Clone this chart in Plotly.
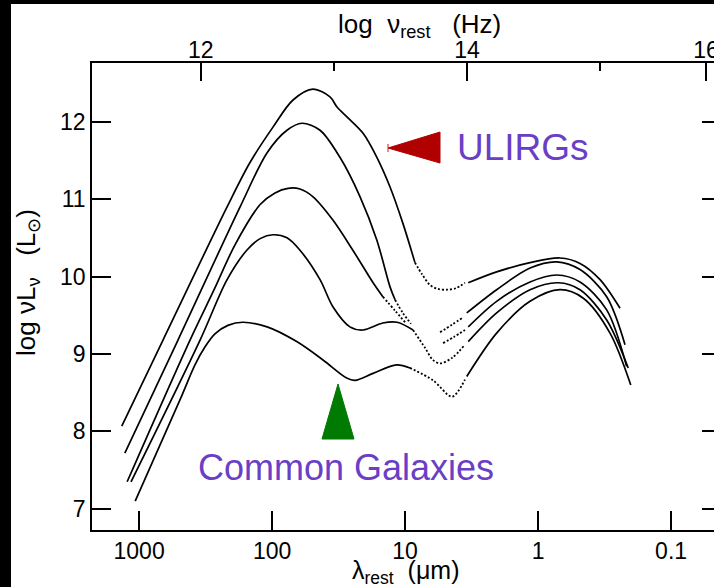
import plotly.graph_objects as go

# Mean spectral energy distributions of galaxies, five luminosity classes.
# Wavelength in micron, luminosity as log(nu L_nu / L_sun).
# Each class: far-IR part (solid), mid-IR bridge (dotted), near-IR/optical part (solid).

c1_ir_lam = [1350, 661, 218, 147, 98.5, 69.6, 49.2, 36.7, 32.5, 26.9, 20.7, 16.3, 13.0, 10.4, 8.43]
c1_ir_L = [8.07, 9.18, 10.90, 11.47, 11.93, 12.28, 12.42, 12.32, 12.19, 12.05, 11.85, 11.54, 11.16, 10.69, 10.18]
c1_mir_lam = [8.43, 7.46, 6.49, 5.66, 4.83, 4.14, 3.55]
c1_mir_L = [10.18, 10.03, 9.89, 9.84, 9.83, 9.85, 9.92]
c1_opt_lam = [3.35, 2.05, 1.15, 0.684, 0.484, 0.342, 0.242]
c1_opt_L = [9.92, 10.06, 10.18, 10.24, 10.17, 9.96, 9.59]

c2_ir_lam = [1280, 510, 174, 109, 77.3, 59.6, 43.6, 30.9, 21.8, 16.3, 13.0, 11.9]
c2_ir_L = [7.72, 9.18, 10.90, 11.60, 11.89, 11.98, 11.89, 11.54, 11.03, 10.47, 9.87, 9.70]
c2_mir_lam = [11.9, 10.4, 9.03, None, 5.46, 4.43, 3.67]
c2_mir_L = [9.70, 9.53, 9.39, None, 9.28, 9.38, 9.47]
c2_opt_lam = [3.44, 2.05, 1.15, 0.724, 0.484, 0.305, 0.222]
c2_opt_L = [9.53, 9.83, 10.11, 10.19, 10.09, 9.74, 9.12]

c3_ir_lam = [1230, 414, 273, 190, 123, 95.1, 75.9, 61.7, 49.2, 34.9, 24.7, 17.4, 14.7]
c3_ir_L = [7.35, 9.18, 9.83, 10.41, 10.93, 11.08, 11.14, 11.13, 11.03, 10.73, 10.34, 9.92, 9.74]
c3_mir_lam = [14.7, 11.9, 10.0, None, 5.18, 4.29, 3.55]
c3_mir_L = [9.74, 9.56, 9.41, None, 9.14, 9.22, 9.31]
c3_opt_lam = [3.35, 2.05, 1.15, 0.724, 0.484, 0.305, 0.216]
c3_opt_L = [9.35, 9.68, 9.93, 10.02, 9.93, 9.57, 8.84]

c4_ir_lam = [1150, 348, 218, 155, 123, 98.5, 77.3, 61.7, 43.6, 34.9, 26.0, 20.7, 14.7, 11.5, 8.71]
c4_ir_L = [7.35, 9.18, 9.96, 10.34, 10.49, 10.54, 10.50, 10.34, 9.96, 9.61, 9.35, 9.31, 9.40, 9.41, 9.31]
c4_mir_lam = [8.71, 7.08, 6.16, 5.46, 4.43, 3.55]
c4_mir_L = [9.31, 9.08, 8.92, 8.88, 8.95, 9.12]
c4_opt_lam = [3.35, 2.05, 1.15, 0.705, 0.484, 0.305, 0.210]
c4_opt_L = [9.16, 9.53, 9.83, 9.92, 9.83, 9.44, 8.82]

c5_ir_lam = [1070, 492, 380, 320, 269, 215, 166, 109, 65.3, 41.2, 27.5, 23.8, 17.4, 11.6, 9.19]
c5_ir_L = [7.10, 8.41, 8.86, 9.09, 9.26, 9.37, 9.41, 9.35, 9.16, 8.92, 8.69, 8.66, 8.75, 8.86, 8.82]
c5_mir_lam = [9.19, 6.16, 4.43, 3.55]
c5_mir_L = [8.82, 8.66, 8.45, 8.67]
c5_opt_lam = [3.44, 2.05, 1.15, 0.684, 0.457, 0.288, 0.201]
c5_opt_L = [8.71, 9.27, 9.68, 9.83, 9.72, 9.27, 8.60]

# Axis ticks
lam_ticks = [1000, 100, 10, 1, 0.1]
lam_tick_text = ["1000", "100", "10", "1", "0.1"]
lum_ticks = [7, 8, 9, 10, 11, 12]
nu_tick_text = ["12", "14", "16"]
nu_ticks = [12, 14, 15.795]
nu_minor_ticks = [13, 15]

# ---- page geometry (pixels) ----
FIG_W, FIG_H = 714, 587
M_L, M_R, M_T, M_B = 92, 0, 63, 57
PLOT_W = FIG_W - M_L - M_R
PLOT_H = FIG_H - M_T - M_B

X_RANGE = [3.3541, -1.3226]      # log10(micron), reversed
NU_RANGE = [11.1836, 15.855]     # log10(Hz)
Y_RANGE = [6.727, 12.758]


def px(x):
    return (x - M_L) / PLOT_W


def py(y):
    return (FIG_H - M_B - y) / PLOT_H


FONT = "Liberation Sans, Arial, Helvetica, sans-serif"
PURPLE = "#6a3fc6"

fig = go.Figure()

curves = [
    (c1_ir_lam, c1_ir_L, c1_mir_lam, c1_mir_L, c1_opt_lam, c1_opt_L),
    (c2_ir_lam, c2_ir_L, c2_mir_lam, c2_mir_L, c2_opt_lam, c2_opt_L),
    (c3_ir_lam, c3_ir_L, c3_mir_lam, c3_mir_L, c3_opt_lam, c3_opt_L),
    (c4_ir_lam, c4_ir_L, c4_mir_lam, c4_mir_L, c4_opt_lam, c4_opt_L),
    (c5_ir_lam, c5_ir_L, c5_mir_lam, c5_mir_L, c5_opt_lam, c5_opt_L),
]

solid = dict(color="black", width=1.7, shape="spline", smoothing=0.9)
dotted = dict(color="black", width=1.8, shape="spline", smoothing=0.9, dash="2px,2px")

for ir_x, ir_y, mir_x, mir_y, opt_x, opt_y in curves:
    fig.add_trace(go.Scatter(x=ir_x, y=ir_y, mode="lines", line=solid,
                             hoverinfo="skip", showlegend=False))
    fig.add_trace(go.Scatter(x=mir_x, y=mir_y, mode="lines", line=dotted,
                             connectgaps=False, hoverinfo="skip", showlegend=False))
    fig.add_trace(go.Scatter(x=opt_x, y=opt_y, mode="lines", line=solid,
                             hoverinfo="skip", showlegend=False))

# invisible carriers so the frequency axis (top) and the mirrored luminosity
# axis (right) get their own subplots
fig.add_trace(go.Scatter(x=[13], y=[9], xaxis="x2", yaxis="y", mode="markers",
                         marker=dict(opacity=0, size=1), hoverinfo="skip",
                         showlegend=False))
fig.add_trace(go.Scatter(x=[10], y=[9], xaxis="x", yaxis="y2", mode="markers",
                         marker=dict(opacity=0, size=1), hoverinfo="skip",
                         showlegend=False))

axis_common = dict(showgrid=False, zeroline=False, tickcolor="black", tickwidth=1.5,
                   linecolor="black", linewidth=1.5, automargin=False,
                   tickfont=dict(family=FONT, size=23, color="black"))

fig.update_layout(
    width=FIG_W, height=FIG_H,
    margin=dict(l=M_L, r=M_R, t=M_T, b=M_B, pad=0, autoexpand=False),
    paper_bgcolor="white", plot_bgcolor="rgba(0,0,0,0)",
    showlegend=False,
    font=dict(family=FONT, size=23, color="black"),
    xaxis=dict(type="log", range=X_RANGE, tickmode="array",
               tickvals=lam_ticks, ticktext=lam_tick_text,
               ticks="inside", ticklen=19, showline=True, **axis_common),
    xaxis2=dict(overlaying="x", side="top", anchor="y", range=NU_RANGE,
                tickmode="array", tickvals=nu_ticks, ticktext=nu_tick_text,
                ticks="inside", ticklen=18, showline=True,
                ticklabelstandoff=-6, ticklabeloverflow="allow",
                minor=dict(tickmode="array", tickvals=nu_minor_ticks, ticks="inside",
                           ticklen=8, tickwidth=1.5, tickcolor="black"),
                **axis_common),
    yaxis=dict(range=Y_RANGE, tickmode="array", tickvals=lum_ticks,
               ticks="inside", ticklen=19, showline=True, **axis_common),
    yaxis2=dict(overlaying="y", side="right", anchor="x", range=Y_RANGE,
                tickmode="array", tickvals=lum_ticks, ticks="inside", ticklen=12,
                showticklabels=False, showline=False, **axis_common),
)

nb = "\u00a0"
annotations = [
    dict(text=f"log{nb}{nb}ν<sub>rest</sub>{nb}{nb}{nb}(Hz)", x=px(419), y=py(25),
         font=dict(family=FONT, size=26, color="black")),
    dict(text=f"λ<sub>rest</sub>{nb}{nb}(μm)", x=px(405), y=py(571.5),
         font=dict(family=FONT, size=25, color="black")),
    dict(text=f"log{nb}νL<sub>ν</sub>{nb}{nb}{nb}(L<sub>⊙</sub>)", x=px(27), y=py(283),
         textangle=-90, font=dict(family=FONT, size=26, color="black")),
    dict(text="ULIRGs", x=px(522.5), y=py(147),
         font=dict(family=FONT, size=37, color=PURPLE)),
    dict(text="Common Galaxies", x=px(346), y=py(467),
         font=dict(family=FONT, size=36, color=PURPLE)),
]
for a in annotations:
    a.update(xref="paper", yref="paper", showarrow=False,
             xanchor="center", yanchor="middle")
fig.update_layout(annotations=annotations)


def tri(points):
    p = [f"{px(x)},{py(y)}" for x, y in points]
    return "M" + " L".join(p) + " Z"


shapes = [
    # pointer to the ULIRG curves
    dict(type="path", path=tri([(388, 148), (440, 132), (440, 163)]),
         fillcolor="#b00000", line=dict(color="#b00000", width=1)),
    dict(type="line", x0=px(388), x1=px(388), y0=py(144), y1=py(152),
         line=dict(color="#d02020", width=1)),
    # pointer to the common galaxies
    dict(type="path", path=tri([(338, 384), (354, 439), (322, 439)]),
         fillcolor="#007a00", line=dict(color="#007a00", width=1)),
    # dark frame edges
    dict(type="rect", x0=px(-5), x1=px(11), y0=py(FIG_H + 5), y1=py(-5),
         fillcolor="black", line=dict(width=0)),
    dict(type="rect", x0=px(-5), x1=px(FIG_W + 5), y0=py(4), y1=py(-5),
         fillcolor="black", line=dict(width=0)),
]
for s in shapes:
    s.update(xref="paper", yref="paper", layer="above")
fig.update_layout(shapes=shapes)

fig.write_html("out.html")
